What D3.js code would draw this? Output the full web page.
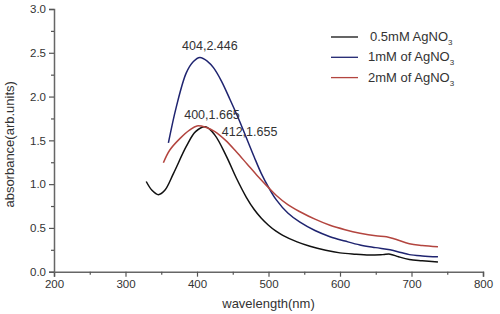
<!DOCTYPE html>
<html>
<head>
<meta charset="utf-8">
<script src="https://cdn.jsdelivr.net/npm/d3@7"></script>
<style>
  body { margin: 0; background: #fff; }
  svg text { font-family: "Liberation Sans", Arial, sans-serif; fill: #333; }
</style>
</head>
<body>
<div id="chart"></div>
<script>
// wavelength (nm) / absorbance
const wl05 = [329, 337, 346, 355, 367, 385, 398, 412, 425, 441, 455, 469, 480, 490, 500, 510, 520, 540, 558, 580, 600, 620, 641, 660, 670, 682, 697, 715, 737];
const ab05 = [1.03, 0.93, 0.88, 0.93, 1.12, 1.43, 1.60, 1.655, 1.56, 1.32, 1.07, 0.85, 0.71, 0.61, 0.53, 0.465, 0.415, 0.34, 0.29, 0.245, 0.215, 0.2, 0.19, 0.195, 0.2, 0.17, 0.14, 0.125, 0.11];

const wl1 = [360, 371, 385, 395, 404, 415, 423, 434, 446, 458, 469, 480, 490, 500, 511, 527, 544, 565, 586, 607, 628, 650, 670, 685, 697, 715, 737];
const ab1 = [1.47, 1.88, 2.27, 2.40, 2.446, 2.40, 2.33, 2.18, 1.97, 1.75, 1.53, 1.31, 1.12, 0.965, 0.82, 0.67, 0.565, 0.47, 0.40, 0.35, 0.305, 0.275, 0.25, 0.22, 0.195, 0.18, 0.17];

const wl2 = [353, 362, 376, 390, 400, 412, 425, 440, 455, 470, 485, 500, 511, 527, 544, 565, 586, 607, 628, 650, 665, 678, 697, 715, 737];
const ab2 = [1.245, 1.39, 1.52, 1.62, 1.665, 1.65, 1.60, 1.50, 1.37, 1.23, 1.09, 0.96, 0.87, 0.765, 0.685, 0.60, 0.53, 0.48, 0.44, 0.41, 0.40, 0.37, 0.32, 0.30, 0.285];

const seriesNames = ["0.5mM AgNO", "1mM of AgNO", "2mM of AgNO"];
const seriesColors = ["#111111", "#1f2470", "#b3453f"];

const xTicks = [200, 300, 400, 500, 600, 700, 800];
const yTicks = [0.0, 0.5, 1.0, 1.5, 2.0, 2.5, 3.0];

const peakLabels = [
    { wl: 404, ab: 2.446, text: "404,2.446", dx: 10, dy: -8 },
    { wl: 400, ab: 1.665, text: "400,1.665", dx: 15, dy: -7 },
    { wl: 412, ab: 1.655, text: "412,1.655", dx: 44, dy: 9 }
];

const width = 500, height = 314;
const margin = { top: 9, right: 17, bottom: 42, left: 54 };

const svg = d3.select("#chart").append("svg")
    .attr("width", width)
    .attr("height", height);

const x = d3.scaleLinear().domain([200, 800]).range([margin.left, width - margin.right]);
const y = d3.scaleLinear().domain([0, 3]).range([height - margin.bottom - 0.3, margin.top]);

// axes
svg.append("g")
    .attr("transform", `translate(0,${y(0)})`)
    .call(d3.axisBottom(x).tickValues(xTicks).tickFormat(d3.format("d")).tickSize(5).tickPadding(3));
svg.append("g")
    .attr("transform", `translate(0,${y(0)})`)
    .call(d3.axisBottom(x).tickValues([250, 350, 450, 550, 650, 750]).tickFormat("").tickSize(3))
    .select(".domain").remove();

svg.append("g")
    .attr("transform", `translate(${x(200)},0)`)
    .call(d3.axisLeft(y).tickValues(yTicks).tickFormat(d3.format(".1f")).tickSize(5).tickPadding(3));
svg.append("g")
    .attr("transform", `translate(${x(200)},0)`)
    .call(d3.axisLeft(y).tickValues([0.25, 0.75, 1.25, 1.75, 2.25, 2.75]).tickFormat("").tickSize(3))
    .select(".domain").remove();

svg.selectAll(".domain").attr("stroke", "#666").attr("stroke-width", 1.5);
svg.selectAll(".tick line").attr("stroke", "#555").attr("stroke-width", 1.2);
svg.selectAll(".tick text").style("font-size", "11.5px").attr("fill", "#333");

// axis titles
svg.append("text")
    .attr("x", (x(200) + x(800)) / 2)
    .attr("y", 308)
    .attr("text-anchor", "middle")
    .style("font-size", "13px")
    .text("wavelength(nm)");

svg.append("text")
    .attr("transform", `translate(14,${(y(0) + y(3)) / 2 + 4}) rotate(-90)`)
    .attr("text-anchor", "middle")
    .style("font-size", "13px")
    .text("absorbance(arb.units)");

// curves
const series = [
    wl05.map((w, i) => [w, ab05[i]]),
    wl1.map((w, i) => [w, ab1[i]]),
    wl2.map((w, i) => [w, ab2[i]])
];

const line = d3.line()
    .x(d => x(d[0]))
    .y(d => y(d[1]))
    .curve(d3.curveCatmullRom.alpha(0.5));

svg.selectAll(".curve")
    .data(series)
    .join("path")
    .attr("class", "curve")
    .attr("fill", "none")
    .attr("stroke", (d, i) => seriesColors[i])
    .attr("stroke-width", 1.5)
    .attr("d", line);

// peak annotations
svg.selectAll(".peak")
    .data(peakLabels)
    .join("text")
    .attr("class", "peak")
    .attr("x", d => x(d.wl) + d.dx)
    .attr("y", d => y(d.ab) + d.dy)
    .attr("text-anchor", "middle")
    .style("font-size", "12.5px")
    .text(d => d.text);

// legend
const legend = svg.append("g").attr("transform", "translate(331,37)");
const rows = legend.selectAll("g")
    .data(seriesNames)
    .join("g")
    .attr("transform", (d, i) => `translate(0,${i * 20.3})`);

rows.append("line")
    .attr("x1", 0).attr("x2", 27)
    .attr("stroke", (d, i) => seriesColors[i])
    .attr("stroke-width", 1.3);

const lt = rows.append("text")
    .attr("x", (d, i) => i === 0 ? 39 : 37)
    .attr("y", 4)
    .style("font-size", "13px")
    .text(d => d);
lt.append("tspan")
    .attr("dy", 4)
    .style("font-size", "8px")
    .text("3");
</script>
</body>
</html>
